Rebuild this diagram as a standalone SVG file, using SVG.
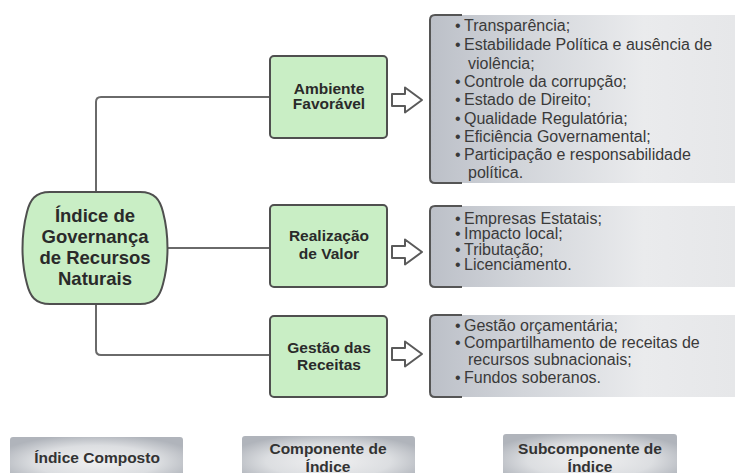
<svg xmlns="http://www.w3.org/2000/svg" width="738" height="473" viewBox="0 0 738 473">
<defs>
<linearGradient id="gb" x1="0" y1="0" x2="1" y2="0">
<stop offset="0" stop-color="#bcc0c8"/>
<stop offset="0.3" stop-color="#d2d5da"/>
<stop offset="0.7" stop-color="#eaebed"/>
<stop offset="1" stop-color="#e6e7e9"/>
</linearGradient>
<radialGradient id="gl" cx="0.5" cy="0.55" r="0.6">
<stop offset="0" stop-color="#f0f0f1"/>
<stop offset="0.6" stop-color="#dcdee1"/>
<stop offset="1" stop-color="#b0b4bb"/>
</radialGradient>
<path id="arw" d="M0,-6 H13 V-12.5 L30,0 L13,12.5 V6 H0 Z"/>
</defs>
<style>
.con{fill:none;stroke:#6a6a6a;stroke-width:2}
.gbox{fill:#c9eec5;stroke:#4f4f4f;stroke-width:2}
.lbl{font-family:"Liberation Sans",Arial,sans-serif;font-weight:bold;fill:#2a2a2a;text-anchor:middle}
.lst{font-family:"Liberation Sans",Arial,sans-serif;font-size:16px;fill:#3a3a3a}
.brk{fill:none;stroke:#555;stroke-width:2}
.arr{fill:#fff;stroke:#5a5a5a;stroke-width:2;stroke-linejoin:round}
.leg{fill:url(#gl)}
.legt{fill:#333}
</style>
<rect width="738" height="473" fill="#fff"/>

<g id="connectors">
<path class="con" d="M270,97 H101 Q96,97 96,102 V192"/>
<path class="con" d="M96,304 V350 Q96,355 101,355 H270"/>
<path class="con" d="M166,248 H270"/>
</g>

<g id="node-indice">
<path class="gbox" d="M50,192 H140 C155,192 160,200 163,212 C169,235 169,262 163,284 C160,296 155,304 140,304 H50 C35,304 30,296 27,284 C21,262 21,235 27,212 C30,200 35,192 50,192 Z"/>
<text class="lbl" font-size="18.5" x="95" y="221.5">Índice de</text>
<text class="lbl" font-size="18.5" x="95" y="243">Governança</text>
<text class="lbl" font-size="18.5" x="95" y="264">de Recursos</text>
<text class="lbl" font-size="18.5" x="95" y="285">Naturais</text>
</g>

<g id="node-ambiente">
<rect class="gbox" x="270" y="56" width="117" height="82" rx="4"/>
<text class="lbl" font-size="15.5" x="329" y="93.5">Ambiente</text>
<text class="lbl" font-size="15.5" x="329" y="109">Favorável</text>
</g>

<g id="node-realizacao">
<rect class="gbox" x="270" y="205" width="117" height="82" rx="4"/>
<text class="lbl" font-size="15.5" x="329" y="240.5">Realização</text>
<text class="lbl" font-size="15.5" x="329" y="258.5">de Valor</text>
</g>

<g id="node-gestao">
<rect class="gbox" x="270" y="316" width="117" height="81" rx="4"/>
<text class="lbl" font-size="15.5" x="329" y="352.5">Gestão das</text>
<text class="lbl" font-size="15.5" x="329" y="369.5">Receitas</text>
</g>

<g id="arrows">
<use href="#arw" class="arr" x="392" y="100"/>
<use href="#arw" class="arr" x="392" y="252"/>
<use href="#arw" class="arr" x="392" y="354"/>
</g>

<g id="sub-ambiente">
<rect x="431" y="15" width="304" height="168" fill="url(#gb)"/>
<path class="brk" d="M462,15 H435 Q430,15 430,20 V178 Q430,183 435,183 H462"/>
<text class="lst">
<tspan x="455" y="31">•</tspan><tspan x="464">Transparência;</tspan>
<tspan x="455" y="50.3">•</tspan><tspan x="464">Estabilidade Política e ausência de</tspan>
<tspan x="468" y="68.6">violência;</tspan>
<tspan x="455" y="86.9">•</tspan><tspan x="464">Controle da corrupção;</tspan>
<tspan x="455" y="105.2">•</tspan><tspan x="464">Estado de Direito;</tspan>
<tspan x="455" y="123.5">•</tspan><tspan x="464">Qualidade Regulatória;</tspan>
<tspan x="455" y="141.8">•</tspan><tspan x="464">Eficiência Governamental;</tspan>
<tspan x="455" y="160.1">•</tspan><tspan x="464">Participação e responsabilidade</tspan>
<tspan x="468" y="178.4">política.</tspan>
</text>
</g>

<g id="sub-realizacao">
<rect x="431" y="206" width="304" height="81" fill="url(#gb)"/>
<path class="brk" d="M462,206 H435 Q430,206 430,211 V282 Q430,287 435,287 H462"/>
<text class="lst">
<tspan x="455" y="223.5">•</tspan><tspan x="464">Empresas Estatais;</tspan>
<tspan x="455" y="239">•</tspan><tspan x="464">Impacto local;</tspan>
<tspan x="455" y="254.5">•</tspan><tspan x="464">Tributação;</tspan>
<tspan x="455" y="270">•</tspan><tspan x="464">Licenciamento.</tspan>
</text>
</g>

<g id="sub-gestao">
<rect x="431" y="315" width="304" height="82" fill="url(#gb)"/>
<path class="brk" d="M462,315 H435 Q430,315 430,320 V392 Q430,397 435,397 H462"/>
<text class="lst">
<tspan x="455" y="331">•</tspan><tspan x="464">Gestão orçamentária;</tspan>
<tspan x="455" y="348">•</tspan><tspan x="464">Compartilhamento de receitas de</tspan>
<tspan x="468" y="365">recursos subnacionais;</tspan>
<tspan x="455" y="382.5">•</tspan><tspan x="464">Fundos soberanos.</tspan>
</text>
</g>

<g id="legend-composto">
<rect class="leg" x="10" y="437" width="173" height="45" rx="3"/>
<text class="lbl legt" font-size="15.5" x="97" y="462.5">Índice Composto</text>
</g>
<g id="legend-componente">
<rect class="leg" x="242" y="436" width="173" height="46" rx="3"/>
<text class="lbl legt" font-size="15.5" x="328" y="453.5">Componente de</text>
<text class="lbl legt" font-size="15.5" x="328" y="471.5">Índice</text>
</g>
<g id="legend-subcomponente">
<rect class="leg" x="503" y="434" width="174" height="48" rx="3"/>
<text class="lbl legt" font-size="15.5" x="590" y="453.5">Subcomponente de</text>
<text class="lbl legt" font-size="15.5" x="590" y="471.5">Índice</text>
</g>
</svg>
